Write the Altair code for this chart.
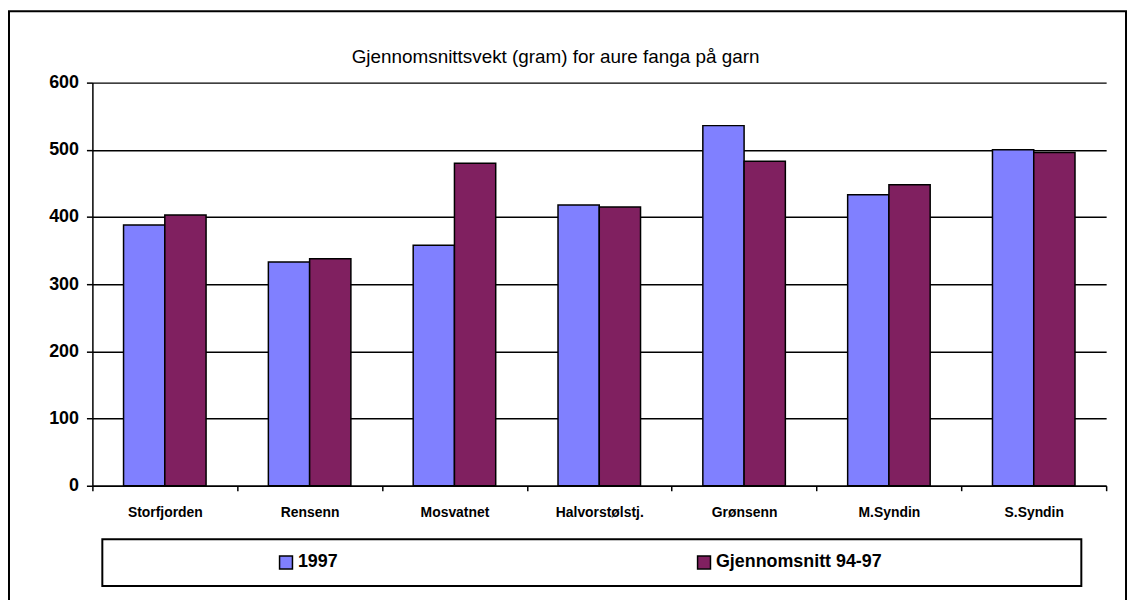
import altair as alt
import pandas as pd

categories = ["Storfjorden", "Rensenn", "Mosvatnet", "Halvorstølstj.", "Grønsenn", "M.Syndin", "S.Syndin"]
series = ["1997", "Gjennomsnitt 94-97"]
values_1997 = [388, 333, 358, 418, 536, 433, 500]
values_avg = [403, 338, 480, 415, 483, 448, 496]
y_ticks = [0, 100, 200, 300, 400, 500, 600]
colors = ["#8080FF", "#802060"]
title_text = "Gjennomsnittsvekt (gram) for aure fanga på garn"

rows = []
for c, a, b in zip(categories, values_1997, values_avg):
    rows.append({"Innsjø": c, "Serie": series[0], "Vekt": a})
    rows.append({"Innsjø": c, "Serie": series[1], "Vekt": b})
df = pd.DataFrame(rows)

FONT = "Liberation Sans"

bars = alt.Chart(df).mark_bar(stroke="black", strokeWidth=1.5).encode(
    x=alt.X("Innsjø:N", sort=categories,
            scale=alt.Scale(paddingInner=0, paddingOuter=0),
            axis=alt.Axis(title=None, labelAngle=0, tickBand="extent", grid=False,
                          labelFont=FONT, labelFontSize=14, labelFontWeight="bold",
                          labelColor="black", tickSize=5, tickWidth=1.5, labelPadding=15,
                          domainWidth=1.5)),
    xOffset=alt.XOffset("Serie:N", sort=series,
                        scale=alt.Scale(paddingInner=0, paddingOuter=0.755)),
    y=alt.Y("Vekt:Q", scale=alt.Scale(domain=[0, 600], nice=False),
            axis=alt.Axis(title=None, values=y_ticks, grid=True, gridColor="black",
                          gridWidth=1.5, labelFont=FONT, labelFontSize=18,
                          labelFontWeight="bold", labelColor="black", tickSize=6,
                          tickWidth=1.5, labelPadding=8, domainWidth=1.5)),
    color=alt.Color("Serie:N", sort=series,
                    scale=alt.Scale(domain=series, range=colors),
                    legend=alt.Legend(title=None, orient="none", legendX=186, legendY=474,
                                      direction="horizontal", columns=2, columnPadding=358,
                                      symbolType="square", symbolSize=169,
                                      symbolStrokeColor="black", symbolStrokeWidth=1.5,
                                      symbolOpacity=1, labelLimit=500,
                                      labelFont=FONT, labelFontSize=18, labelFontWeight="bold",
                                      labelColor="black", labelOffset=3, padding=0)),
)

one = pd.DataFrame({"k": [0]})
frame = alt.Chart(one).mark_rect(filled=False, stroke="black", strokeWidth=2).encode(
    x=alt.value(-84), x2=alt.value(1041), y=alt.value(-72), y2=alt.value(530)
)
legend_box = alt.Chart(one).mark_rect(filled=False, stroke="black", strokeWidth=2).encode(
    x=alt.value(10), x2=alt.value(996), y=alt.value(460), y2=alt.value(507)
)

chart = alt.layer(frame, legend_box, bars).properties(
    width=1021, height=406, padding=0,
    title=alt.TitleParams(title_text, font=FONT, fontSize=19, fontWeight="normal",
                          color="black", anchor="middle", dx=-44, offset=-72,
                          frame="group", baseline="alphabetic"),
).configure_view(stroke=None).configure_axis(
    domainColor="black", tickColor="black"
)

chart.save("out.html", embed_options={"renderer": "svg", "actions": False})
